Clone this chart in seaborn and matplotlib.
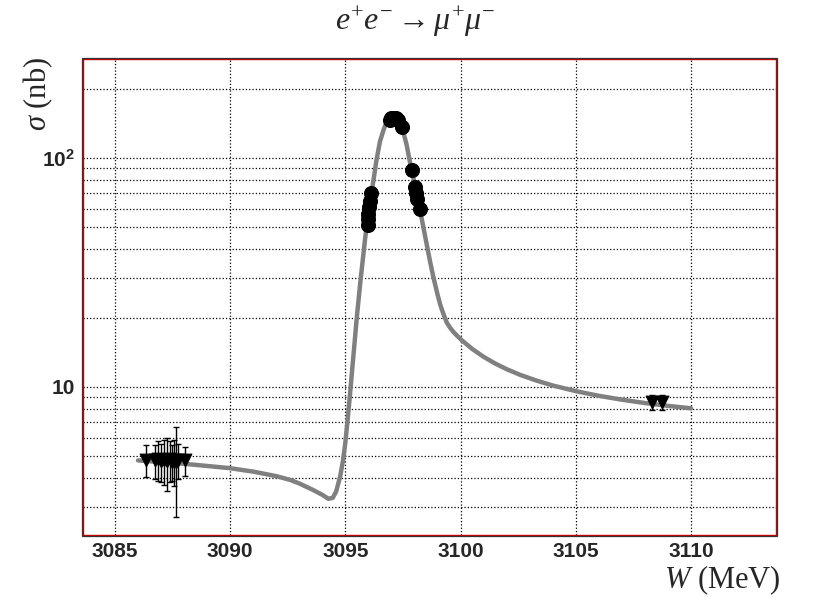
import matplotlib
matplotlib.use('Agg')
import matplotlib.pyplot as plt
import seaborn as sns
from matplotlib.ticker import MultipleLocator, FixedLocator, FixedFormatter, NullFormatter
from matplotlib.patches import Rectangle

# fitted line shape
curve_w = [3086.0, 3087.0, 3088.0, 3089.0, 3090.0, 3091.0, 3092.0, 3092.6, 3093.0,
           3093.6, 3094.0, 3094.26, 3094.45, 3094.6, 3094.77, 3094.9, 3095.0, 3095.1,
           3095.2, 3095.35, 3095.5, 3095.65, 3095.85, 3096.0, 3096.21, 3096.35, 3096.5,
           3096.65, 3096.79, 3096.92, 3097.05, 3097.18, 3097.3, 3097.4, 3097.51, 3097.65,
           3097.8, 3097.95, 3098.09, 3098.23, 3098.38, 3098.52, 3098.67, 3098.82, 3099.0,
           3099.12, 3099.25, 3099.4, 3099.55, 3099.7, 3099.85, 3100.05, 3100.5, 3101.0,
           3101.5, 3102.0, 3102.6, 3103.3, 3104.0, 3105.0, 3106.0, 3107.0, 3108.0,
           3109.0, 3110.0]
curve_sigma = [4.78, 4.70, 4.62, 4.52, 4.42, 4.27, 4.08, 3.93, 3.79,
               3.55, 3.38, 3.25, 3.28, 3.50, 4.06, 4.8, 5.75, 7.25,
               9.3, 13.8, 20.4, 28.8, 44.0, 57.5, 79.0, 98.0, 118.0,
               132.0, 144.0, 150.6, 154.0, 152.0, 146.0, 140.0, 130.0, 115.0,
               96.0, 82.0, 71.0, 60.0, 50.0, 42.4, 35.5, 30.1, 25.3,
               22.8, 20.9, 19.1, 18.1, 17.34, 16.73, 16.0, 14.67, 13.54,
               12.66, 11.96, 11.28, 10.66, 10.15, 9.59, 9.15, 8.80, 8.51,
               8.27, 8.07]

# scan points near the peak
peak_w = [3095.97, 3095.99, 3096.0, 3096.03, 3096.07, 3096.12,
          3096.92, 3097.0, 3097.1, 3097.2, 3097.3, 3097.45,
          3097.9, 3098.02, 3098.07, 3098.12, 3098.22]
peak_sigma = [51, 54, 57, 61, 65, 70,
              146, 149, 150, 149, 146, 137,
              89, 75, 70, 66, 60]
peak_err = [2, 2, 2, 2, 2, 2,
            3, 3, 3, 3, 3, 6,
            2, 2, 2, 2, 2]

# off-resonance points
low_w = [3086.35, 3086.74, 3086.88, 3087.00, 3087.12, 3087.24,
         3087.39, 3087.46, 3087.55, 3087.63, 3087.72, 3088.04]
low_sigma = [4.82, 4.78, 4.85, 4.74, 4.80, 4.76, 4.83, 4.72, 4.79, 4.70, 4.81, 4.78]
low_err = [0.76, 0.80, 0.95, 0.90, 1.05, 1.25, 1.00, 0.85, 1.10, 2.00, 0.85, 0.70]

high_w = [3108.29, 3108.75]
high_sigma = [8.6, 8.6]
high_err = [0.65, 0.65]

y_major = [10, 100]
y_major_labels = ['10', r'$\mathbf{10^{2}}$']
y_minor = [3, 4, 5, 6, 7, 8, 9, 20, 30, 40, 50, 60, 70, 80, 90, 200]

sns.set_style('white')
plt.rcParams['font.family'] = ['Liberation Sans', 'DejaVu Sans']
plt.rcParams['mathtext.fontset'] = 'custom'
plt.rcParams['mathtext.rm'] = 'Liberation Serif'
plt.rcParams['mathtext.it'] = 'Liberation Serif:italic'
plt.rcParams['mathtext.bf'] = 'Liberation Sans:bold'

fig = plt.figure(figsize=(8.31, 5.98), dpi=100)
ax = fig.add_axes([83/831, 1 - 535/598, (776 - 83)/831, (535 - 59)/598])

sns.lineplot(x=curve_w, y=curve_sigma, ax=ax, color='#808080', lw=3.2,
             sort=False, estimator=None, zorder=2)

ax.errorbar(peak_w, peak_sigma, yerr=peak_err, fmt='none', ecolor='black',
            elinewidth=1, capsize=2, zorder=3)
ax.errorbar(low_w, low_sigma, yerr=low_err, fmt='none', ecolor='black',
            elinewidth=1, capsize=2, zorder=3)
ax.errorbar(high_w, high_sigma, yerr=high_err, fmt='none', ecolor='black',
            elinewidth=1, capsize=2, zorder=3)

sns.scatterplot(x=peak_w, y=peak_sigma, ax=ax, marker='o', s=100,
                color='black', edgecolor='black', zorder=4)
sns.scatterplot(x=low_w + high_w, y=low_sigma + high_sigma, ax=ax, marker='v', s=85,
                color='black', edgecolor='black', zorder=4)

ax.set_yscale('log')
ax.set_xlim(3083.61, 3113.69)
ax.set_ylim(2.258, 270.4)

ax.xaxis.set_major_locator(MultipleLocator(5))
ax.xaxis.set_minor_locator(MultipleLocator(1))
ax.yaxis.set_major_locator(FixedLocator(y_major))
ax.yaxis.set_major_formatter(FixedFormatter(y_major_labels))
ax.yaxis.set_minor_locator(FixedLocator(y_minor))
ax.yaxis.set_minor_formatter(NullFormatter())

ax.tick_params(axis='x', which='major', direction='in', length=8.6, width=1,
               labelsize=15, pad=5, top=False)
ax.tick_params(axis='x', which='minor', direction='in', length=4.3, width=1, top=False)
ax.tick_params(axis='y', which='major', direction='in', length=13, width=1,
               labelsize=15, pad=6, right=False)
ax.tick_params(axis='y', which='minor', direction='in', length=6, width=1, right=False)
for lab in ax.get_xticklabels() + ax.get_yticklabels():
    lab.set_fontweight('bold')

ax.set_axisbelow(True)
ax.grid(True, which='both', axis='y', color='black', linestyle=':', lw=0.9)
ax.grid(True, which='major', axis='x', color='black', linestyle=':', lw=0.9)

for sp in ax.spines.values():
    sp.set_color('#d00000')
    sp.set_linewidth(1.0)
fig.patches.append(Rectangle((82/831, 1 - 536/598), 695/831, 478/598,
                             transform=fig.transFigure, fill=False,
                             ec='#333333', lw=0.9, zorder=0))

ax.set_xlabel('')
ax.set_ylabel('')
fig.text(0.5, 1 - 22/598, r'$e^{+}e^{-} \rightarrow \mu^{+}\mu^{-}$',
         ha='center', va='center', fontsize=23)
fig.text(781/831, 1 - 580/598, r'$W$ (MeV)', ha='right', va='center',
         fontsize=22, family='Liberation Serif')
fig.text(38/831, 1 - 57/598, r'$\sigma$ (nb)', ha='center', va='top',
         rotation=90, fontsize=22, family='Liberation Serif')

fig.savefig('out.png', dpi=100)
